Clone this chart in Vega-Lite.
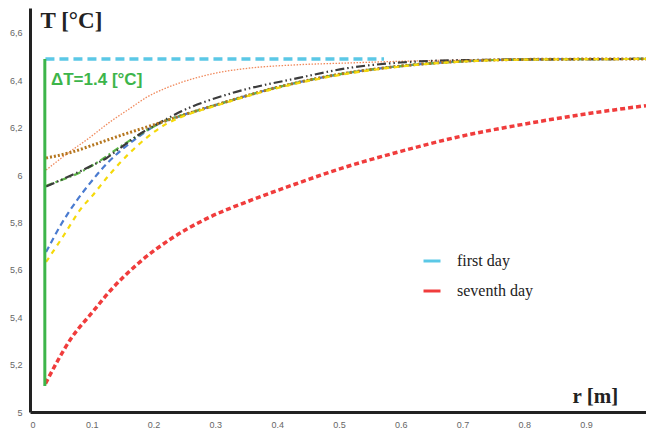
{
  "$schema": "https://vega.github.io/schema/vega-lite/v6.json",
  "width": 616,
  "height": 404,
  "autosize": "none",
  "padding": {"left": 30, "top": 8, "right": 0, "bottom": 20},
  "background": "white",
  "config": {
    "view": {"stroke": null},
    "axis": {"grid": false, "ticks": false, "domainColor": "#222222", "domainWidth": 3, "labelColor": "#666666", "labelFont": "Liberation Sans", "labelFontSize": 9},
    "legend": {"orient": "none", "legendX": 392, "legendY": 243, "title": null, "symbolType": "stroke", "symbolSize": 289, "symbolStrokeWidth": 3, "labelFont": "Liberation Serif", "labelFontSize": 16, "labelColor": "#222222", "labelOffset": 15, "rowPadding": 12}
  },
  "datasets": {
    "curves": [
      {"s": "first day", "r": 0.025, "T": 6.49},
      {"s": "first day", "r": 0.573, "T": 6.49},
      {"s": "seventh day", "r": 0.025, "T": 5.12},
      {"s": "seventh day", "r": 0.068, "T": 5.316},
      {"s": "seventh day", "r": 0.1, "T": 5.418},
      {"s": "seventh day", "r": 0.131, "T": 5.515},
      {"s": "seventh day", "r": 0.176, "T": 5.629},
      {"s": "seventh day", "r": 0.23, "T": 5.734},
      {"s": "seventh day", "r": 0.285, "T": 5.815},
      {"s": "seventh day", "r": 0.359, "T": 5.895},
      {"s": "seventh day", "r": 0.435, "T": 5.967},
      {"s": "seventh day", "r": 0.5, "T": 6.025},
      {"s": "seventh day", "r": 0.6, "T": 6.1},
      {"s": "seventh day", "r": 0.7, "T": 6.165},
      {"s": "seventh day", "r": 0.8, "T": 6.215},
      {"s": "seventh day", "r": 0.9, "T": 6.258},
      {"s": "seventh day", "r": 0.997, "T": 6.293},
      {"s": "salmon", "r": 0.026, "T": 6.021},
      {"s": "salmon", "r": 0.06, "T": 6.09},
      {"s": "salmon", "r": 0.095, "T": 6.155},
      {"s": "salmon", "r": 0.13, "T": 6.225},
      {"s": "salmon", "r": 0.16, "T": 6.278},
      {"s": "salmon", "r": 0.19, "T": 6.33},
      {"s": "salmon", "r": 0.22, "T": 6.367},
      {"s": "salmon", "r": 0.246, "T": 6.392},
      {"s": "salmon", "r": 0.3, "T": 6.43},
      {"s": "salmon", "r": 0.354, "T": 6.451},
      {"s": "salmon", "r": 0.43, "T": 6.465},
      {"s": "salmon", "r": 0.516, "T": 6.473},
      {"s": "salmon", "r": 0.6, "T": 6.48},
      {"s": "salmon", "r": 0.7, "T": 6.485},
      {"s": "salmon", "r": 0.997, "T": 6.49},
      {"s": "blue", "r": 0.026, "T": 5.675},
      {"s": "blue", "r": 0.05, "T": 5.79},
      {"s": "blue", "r": 0.075, "T": 5.89},
      {"s": "blue", "r": 0.1, "T": 5.975},
      {"s": "blue", "r": 0.125, "T": 6.05},
      {"s": "blue", "r": 0.15, "T": 6.11},
      {"s": "blue", "r": 0.175, "T": 6.16},
      {"s": "blue", "r": 0.2, "T": 6.205},
      {"s": "blue", "r": 0.25, "T": 6.255},
      {"s": "blue", "r": 0.3, "T": 6.295},
      {"s": "blue", "r": 0.4, "T": 6.37},
      {"s": "blue", "r": 0.5, "T": 6.425},
      {"s": "blue", "r": 0.6, "T": 6.46},
      {"s": "blue", "r": 0.7, "T": 6.48},
      {"s": "blue", "r": 0.8, "T": 6.488},
      {"s": "blue", "r": 0.997, "T": 6.49},
      {"s": "green", "r": 0.026, "T": 5.955},
      {"s": "green", "r": 0.052, "T": 5.98},
      {"s": "green", "r": 0.08, "T": 6.01},
      {"s": "green", "r": 0.107, "T": 6.05},
      {"s": "green", "r": 0.155, "T": 6.135},
      {"s": "green", "r": 0.19, "T": 6.19},
      {"s": "green", "r": 0.22, "T": 6.23},
      {"s": "green", "r": 0.25, "T": 6.255},
      {"s": "green", "r": 0.3, "T": 6.295},
      {"s": "green", "r": 0.4, "T": 6.37},
      {"s": "green", "r": 0.5, "T": 6.425},
      {"s": "green", "r": 0.6, "T": 6.46},
      {"s": "green", "r": 0.7, "T": 6.48},
      {"s": "green", "r": 0.8, "T": 6.488},
      {"s": "green", "r": 0.997, "T": 6.49},
      {"s": "black", "r": 0.026, "T": 5.952},
      {"s": "black", "r": 0.068, "T": 6.0},
      {"s": "black", "r": 0.1, "T": 6.04},
      {"s": "black", "r": 0.123, "T": 6.07},
      {"s": "black", "r": 0.144, "T": 6.11},
      {"s": "black", "r": 0.176, "T": 6.17},
      {"s": "black", "r": 0.22, "T": 6.235},
      {"s": "black", "r": 0.246, "T": 6.27},
      {"s": "black", "r": 0.327, "T": 6.346},
      {"s": "black", "r": 0.435, "T": 6.41},
      {"s": "black", "r": 0.516, "T": 6.452},
      {"s": "black", "r": 0.6, "T": 6.475},
      {"s": "black", "r": 0.7, "T": 6.485},
      {"s": "black", "r": 0.997, "T": 6.49},
      {"s": "brown", "r": 0.026, "T": 6.072},
      {"s": "brown", "r": 0.068, "T": 6.097},
      {"s": "brown", "r": 0.1, "T": 6.125},
      {"s": "brown", "r": 0.15, "T": 6.17},
      {"s": "brown", "r": 0.2, "T": 6.212},
      {"s": "brown", "r": 0.25, "T": 6.255},
      {"s": "brown", "r": 0.3, "T": 6.295},
      {"s": "brown", "r": 0.4, "T": 6.37},
      {"s": "brown", "r": 0.5, "T": 6.425},
      {"s": "brown", "r": 0.6, "T": 6.46},
      {"s": "brown", "r": 0.7, "T": 6.48},
      {"s": "brown", "r": 0.8, "T": 6.488},
      {"s": "brown", "r": 0.997, "T": 6.49},
      {"s": "yellow", "r": 0.026, "T": 5.633},
      {"s": "yellow", "r": 0.055, "T": 5.747},
      {"s": "yellow", "r": 0.083, "T": 5.86},
      {"s": "yellow", "r": 0.1, "T": 5.91},
      {"s": "yellow", "r": 0.128, "T": 6.0},
      {"s": "yellow", "r": 0.16, "T": 6.09},
      {"s": "yellow", "r": 0.19, "T": 6.16},
      {"s": "yellow", "r": 0.22, "T": 6.215},
      {"s": "yellow", "r": 0.25, "T": 6.25},
      {"s": "yellow", "r": 0.3, "T": 6.292},
      {"s": "yellow", "r": 0.4, "T": 6.367},
      {"s": "yellow", "r": 0.5, "T": 6.422},
      {"s": "yellow", "r": 0.6, "T": 6.458},
      {"s": "yellow", "r": 0.7, "T": 6.479},
      {"s": "yellow", "r": 0.8, "T": 6.487},
      {"s": "yellow", "r": 0.997, "T": 6.49}
    ],
    "delta": [
      {"r": 0.024, "T": 5.11, "T2": 6.49, "label": "ΔT=1.4 [°C]", "lr": 0.034, "lT": 6.4}
    ]
  },
  "layer": [
    {
      "data": {"name": "curves"},
      "transform": [{"filter": "datum.s === 'salmon'"}],
      "mark": {"type": "line", "interpolate": "monotone", "color": "#f08a5d", "strokeWidth": 1.3, "strokeDash": [1.5, 1.5]},
      "encoding": {
        "x": {"field": "r", "type": "quantitative", "scale": {"domain": [0, 0.997], "nice": false, "zero": false},
          "axis": {"values": [0, 0.1, 0.2, 0.3, 0.4, 0.5, 0.6, 0.7, 0.8, 0.9], "labelExpr": "format(datum.value, '.1~f')", "labelPadding": 8, "title": "r [m]", "titleX": 542, "titleY": -16, "titleAlign": "left", "titleBaseline": "middle", "titleFont": "Liberation Serif", "titleFontSize": 21, "titleFontWeight": "bold", "titleColor": "#222222"}},
        "y": {"field": "T", "type": "quantitative", "scale": {"domain": [5, 6.705], "nice": false, "zero": false},
          "axis": {"values": [5, 5.2, 5.4, 5.6, 5.8, 6, 6.2, 6.4, 6.6], "labelExpr": "replace(format(datum.value, '.1~f'), '.', ',')", "labelPadding": 8, "title": "T [°C]", "titleAngle": 0, "titleX": 10, "titleY": 12, "titleAlign": "left", "titleBaseline": "middle", "titleFont": "Liberation Serif", "titleFontSize": 23, "titleFontWeight": "bold", "titleColor": "#222222"}}
      }
    },
    {
      "data": {"name": "curves"},
      "transform": [{"filter": "datum.s === 'seventh day'"}],
      "mark": {"type": "line", "interpolate": "monotone", "strokeWidth": 3.5, "strokeDash": [5, 3]},
      "encoding": {
        "x": {"field": "r", "type": "quantitative"},
        "y": {"field": "T", "type": "quantitative"},
        "color": {"field": "s", "type": "nominal", "scale": {"domain": ["first day", "seventh day"], "range": ["#5bc8e6", "#f03c3c"]}}
      }
    },
    {
      "data": {"name": "curves"},
      "transform": [{"filter": "datum.s === 'blue'"}],
      "mark": {"type": "line", "interpolate": "monotone", "color": "#4a7bd0", "strokeWidth": 2.2, "strokeDash": [6, 4]},
      "encoding": {"x": {"field": "r", "type": "quantitative"}, "y": {"field": "T", "type": "quantitative"}}
    },
    {
      "data": {"name": "curves"},
      "transform": [{"filter": "datum.s === 'green'"}],
      "mark": {"type": "line", "interpolate": "monotone", "color": "#5db848", "strokeWidth": 2.2, "strokeDash": [7, 3, 2, 3]},
      "encoding": {"x": {"field": "r", "type": "quantitative"}, "y": {"field": "T", "type": "quantitative"}}
    },
    {
      "data": {"name": "curves"},
      "transform": [{"filter": "datum.s === 'black'"}],
      "mark": {"type": "line", "interpolate": "monotone", "color": "#3c3c3c", "strokeWidth": 2.2, "strokeDash": [9, 3, 1.5, 3, 1.5, 3]},
      "encoding": {"x": {"field": "r", "type": "quantitative"}, "y": {"field": "T", "type": "quantitative"}}
    },
    {
      "data": {"name": "curves"},
      "transform": [{"filter": "datum.s === 'brown'"}],
      "mark": {"type": "line", "interpolate": "monotone", "color": "#b5761e", "strokeWidth": 3, "strokeDash": [2, 2]},
      "encoding": {"x": {"field": "r", "type": "quantitative"}, "y": {"field": "T", "type": "quantitative"}}
    },
    {
      "data": {"name": "curves"},
      "transform": [{"filter": "datum.s === 'yellow'"}],
      "mark": {"type": "line", "interpolate": "monotone", "color": "#f5d90a", "strokeWidth": 2.2, "strokeDash": [5, 5]},
      "encoding": {"x": {"field": "r", "type": "quantitative"}, "y": {"field": "T", "type": "quantitative"}}
    },
    {
      "data": {"name": "curves"},
      "transform": [{"filter": "datum.s === 'first day'"}],
      "mark": {"type": "line", "strokeWidth": 3.5, "strokeDash": [9, 5]},
      "encoding": {
        "x": {"field": "r", "type": "quantitative"},
        "y": {"field": "T", "type": "quantitative"},
        "color": {"field": "s", "type": "nominal"}
      }
    },
    {
      "data": {"name": "delta"},
      "mark": {"type": "rule", "color": "#3db54a", "strokeWidth": 3},
      "encoding": {"x": {"field": "r", "type": "quantitative"}, "y": {"field": "T", "type": "quantitative"}, "y2": {"field": "T2"}}
    },
    {
      "data": {"name": "delta"},
      "mark": {"type": "text", "color": "#3db54a", "font": "Liberation Sans", "fontWeight": "bold", "fontSize": 17, "align": "left", "baseline": "middle"},
      "encoding": {"x": {"field": "lr", "type": "quantitative"}, "y": {"field": "lT", "type": "quantitative"}, "text": {"field": "label"}}
    }
  ]
}
